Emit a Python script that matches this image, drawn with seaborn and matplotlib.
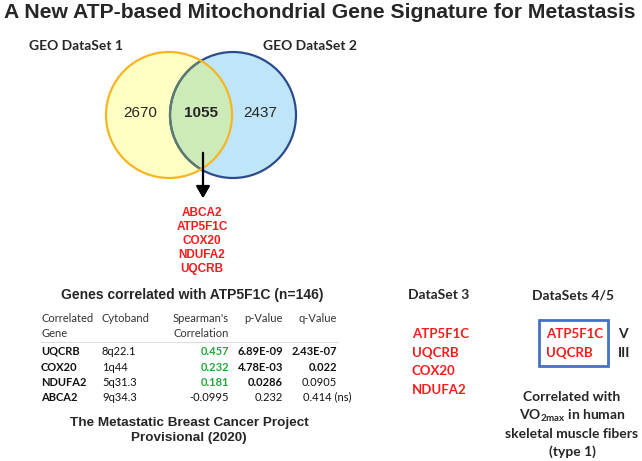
import seaborn as sns
import matplotlib.pyplot as plt
from matplotlib.patches import Circle, Rectangle

# ---- data ----
venn_labels = ["GEO DataSet 1", "GEO DataSet 2"]
venn_counts = [2670, 1055, 2437]   # only set 1, shared, only set 2
shared_genes = ["ABCA2", "ATP5F1C", "COX20", "NDUFA2", "UQCRB"]

table_header = [["Correlated", "Gene"], ["Cytoband"], ["Spearman's", "Correlation"],
                ["p-Value"], ["q-Value"]]
genes = ["UQCRB", "COX20", "NDUFA2", "ABCA2"]
cytoband = ["8q22.1", "1q44", "5q31.3", "9q34.3"]
spearman = ["0.457", "0.232", "0.181", "-0.0995"]
p_values = ["6.89E-09", "4.78E-03", "0.0286", "0.232"]
q_values = ["2.43E-07", "0.022", "0.0905", "0.414 (ns)"]
sig_corr = [True, True, True, False]
sig_p = [True, True, True, False]
sig_q = [True, True, False, False]

dataset3_genes = ["ATP5F1C", "UQCRB", "COX20", "NDUFA2"]
dataset45_genes = ["ATP5F1C", "UQCRB"]
complexes = ["V", "III"]

sns.set_theme(style="white")
plt.rcParams['mathtext.fontset'] = 'custom'
plt.rcParams['mathtext.bf'] = 'Lato:bold'
plt.rcParams['mathtext.rm'] = 'Lato'

ARIAL = "Liberation Sans"
CALIBRI = "Lato"
RED = "#f41c1c"
GREEN = "#22a83a"

fig = plt.figure(figsize=(6.42, 4.61), dpi=100)
ax = fig.add_axes([0, 0, 1, 1])
ax.set_xlim(0, 642)
ax.set_ylim(461, 0)
ax.axis("off")

# title
ax.text(320, 13, "A New ATP-based Mitochondrial Gene Signature for Metastasis",
        ha="center", va="center", fontsize=15.2, fontweight="bold", family=ARIAL)

# venn
r = 63
cl, cr, cy = 169, 233, 115
left = Circle((cl, cy), r, fc="#ffffc4", ec="none", zorder=1)
right = Circle((cr, cy), r, fc="#bfe6f8", ec="none", zorder=1)
ax.add_patch(left)
ax.add_patch(right)
inter = Circle((cl, cy), r, fc="#cdebb9", ec="none", zorder=2)
ax.add_patch(inter)
inter.set_clip_path(right)
ax.add_patch(Circle((cr, cy), r, fc="none", ec="#2b4b8c", lw=1.6, zorder=3))
inner = Circle((cr, cy), r, fc="none", ec="#5f7b6c", lw=1.6, zorder=4)
ax.add_patch(inner)
inner.set_clip_path(left)
ax.add_patch(Circle((cl, cy), r, fc="none", ec="#f6b523", lw=1.6, zorder=5))

ax.text(76, 46, venn_labels[0], ha="center", va="center", fontsize=10,
        fontweight="bold", family=CALIBRI)
ax.text(310, 46, venn_labels[1], ha="center", va="center", fontsize=10,
        fontweight="bold", family=CALIBRI)
for x, n, w in zip([140, 201, 260], venn_counts, ["normal", "bold", "normal"]):
    ax.text(x, 113, str(n), ha="center", va="center", fontsize=11,
            fontweight=w, family=ARIAL, zorder=6)

ax.annotate("", xy=(203, 201), xytext=(203, 150),
            arrowprops=dict(arrowstyle="-|>,head_width=0.35,head_length=0.6",
                            color="black", lw=1.6), zorder=6)
for i, g in enumerate(shared_genes):
    ax.text(202, 213 + i * 14, g, ha="center", va="center", fontsize=8.5,
            fontweight="bold", color=RED, family=ARIAL)

# table
ax.text(192, 295, "Genes correlated with ATP5F1C (n=146)", ha="center", va="center",
        fontsize=10, fontweight="bold", family=ARIAL)
col_x = [41, 102, 229, 283, 337]
col_ha = ["left", "left", "right", "right", "right"]
for x, ha, lines in zip(col_x, col_ha, table_header):
    for j, t in enumerate(lines):
        ax.text(x, 318 + j * 15, t, ha=ha, va="center", fontsize=8,
                color="#333333", family=CALIBRI)
ax.plot([41, 338], [342, 342], color="#dddddd", lw=0.8)
row_y = [351, 367, 382, 397]
for i, y in enumerate(row_y):
    kw = dict(va="center", fontsize=8, family=CALIBRI, color="#111111")
    ax.text(col_x[0], y, genes[i], ha="left", fontweight="bold", **kw)
    ax.text(col_x[1], y, cytoband[i], ha="left", **kw)
    ax.text(col_x[2], y, spearman[i], ha="right",
            fontweight="bold" if sig_corr[i] else "normal",
            **{**kw, "color": GREEN if sig_corr[i] else "#111111"})
    ax.text(col_x[3], y, p_values[i], ha="right",
            fontweight="bold" if sig_p[i] else "normal", **kw)
    if q_values[i].endswith("(ns)"):
        ax.text(303, y, q_values[i], ha="left", **kw)
    else:
        ax.text(col_x[4], y, q_values[i], ha="right",
                fontweight="bold" if sig_q[i] else "normal", **kw)

ax.text(189, 423, "The Metastatic Breast Cancer Project", ha="center", va="center",
        fontsize=9.7, fontweight="bold", family=ARIAL)
ax.text(189, 438, "Provisional (2020)", ha="center", va="center",
        fontsize=9.7, fontweight="bold", family=ARIAL)

# right side
ax.text(439, 295, "DataSet 3", ha="center", va="center", fontsize=10,
        fontweight="bold", family=CALIBRI)
ax.text(573, 295, "DataSets 4/5", ha="center", va="center", fontsize=10,
        fontweight="bold", family=CALIBRI)
for i, g in enumerate(dataset3_genes):
    ax.text(412, 334 + i * 18.7, g, ha="left", va="center", fontsize=9.5,
            fontweight="bold", color=RED, family=CALIBRI)
ax.add_patch(Rectangle((539, 320), 69, 46, fc="none", ec="#4472c4", lw=2))
for i, (g, c) in enumerate(zip(dataset45_genes, complexes)):
    ax.text(546, 334 + i * 19, g, ha="left", va="center", fontsize=9.5,
            fontweight="bold", color=RED, family=CALIBRI)
    ax.text(618, 334 + i * 19, c, ha="left", va="center", fontsize=10,
            fontweight="bold", family=CALIBRI)
note = ["Correlated with", r"VO$_{\mathbf{2max}}$ in human",
        "skeletal muscle fibers", "(type 1)"]
for i, t in enumerate(note):
    ax.text(572, 397 + i * 18.3, t, ha="center", va="center", fontsize=10,
            fontweight="bold", family=CALIBRI)

fig.savefig("out.png", dpi=100)
